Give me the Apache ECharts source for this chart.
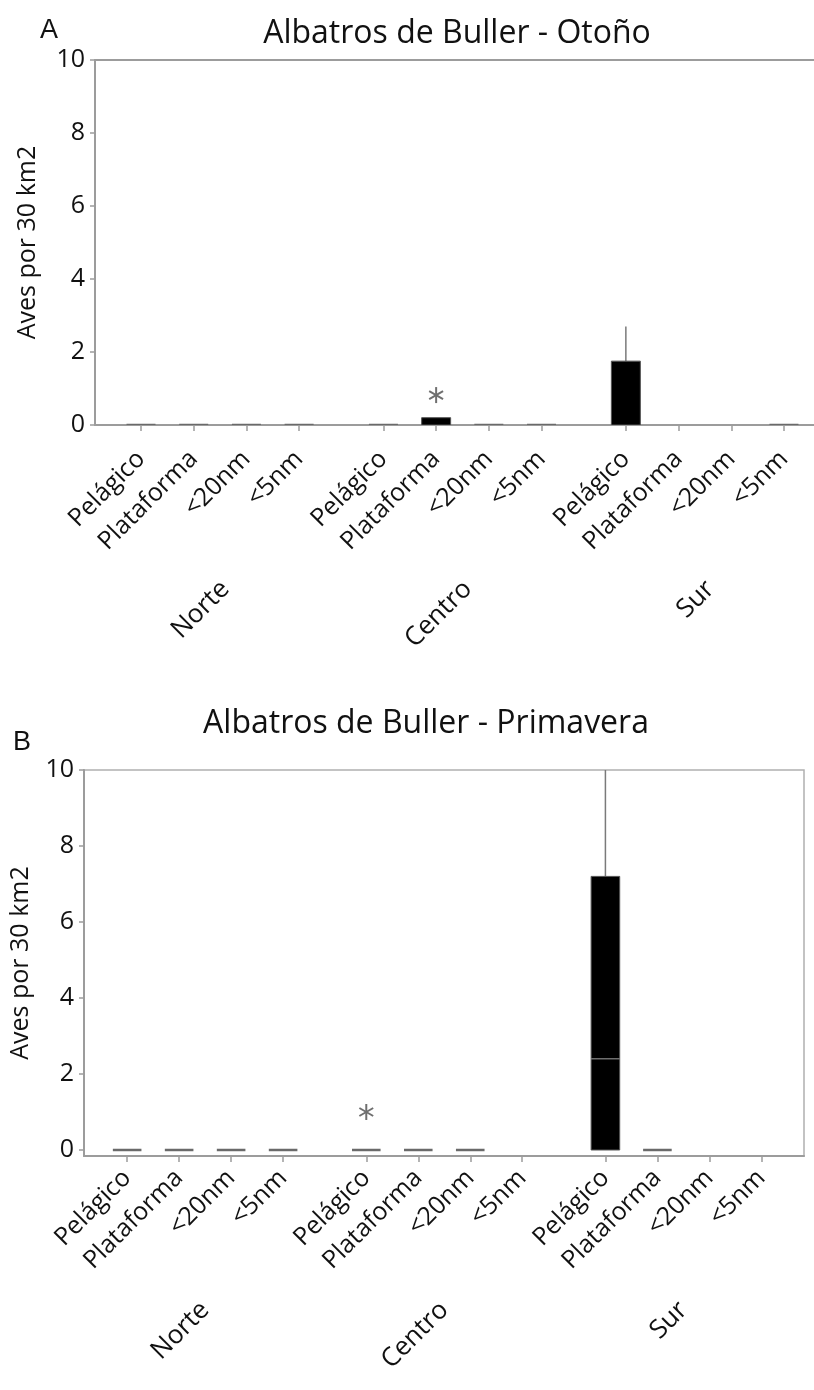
<!DOCTYPE html>
<html>
<head>
<meta charset="utf-8">
<script src="https://cdn.jsdelivr.net/npm/echarts@6/dist/echarts.min.js"></script>
<style>
html,body{margin:0;padding:0;background:#fff;}
#c{width:814px;height:1390px;}
</style>
</head>
<body>
<div id="c"></div>
<script>
// ---- data ----
const categories = ['Pelágico', 'Plataforma', '<20nm', '<5nm'];
const regions = ['Norte', 'Centro', 'Sur'];
const yTicks = [0, 2, 4, 6, 8, 10];
const titleOtono = 'Albatros de Buller - Otoño';
const titlePrimavera = 'Albatros de Buller - Primavera';
const yName = 'Aves por 30 km2';
// box stats per category: [min, q1, median, q3, max]; null = no box
const otonoNorte = [[0,0,0,0,0],[0,0,0,0,0],[0,0,0,0,0],[0,0,0,0,0]];
const otonoCentro = [[0,0,0,0,0],[0,0,0,0.2,0.2],[0,0,0,0,0],[0,0,0,0,0]];
const otonoSur = [[0,0,0,1.75,2.7],null,null,[0,0,0,0,0]];
const otonoOutliers = [['Centro', 'Plataforma', 0.82]];
const primaveraNorte = [[0,0,0,0,0],[0,0,0,0,0],[0,0,0,0,0],[0,0,0,0,0]];
const primaveraCentro = [[0,0,0,0,0],[0,0,0,0,0],[0,0,0,0,0],null];
const primaveraSur = [[0,0,2.4,7.2,10],[0,0,0,0,0],null,null];
const primaveraOutliers = [['Centro', 'Pelágico', 1.0]];

// ---- layout helpers ----
const GROUP_STEP = 4.6;
function pos(gi, ci) { return gi * GROUP_STEP + ci; }
const tickPos = [];
const tickName = [];
regions.forEach((r, gi) => categories.forEach((c, ci) => { tickPos.push(pos(gi, ci)); tickName.push(c); }));
const groupPos = regions.map((r, gi) => pos(gi, 1.5));
function nameAt(list, names, shift, v) {
  for (let i = 0; i < list.length; i++) if (Math.abs(list[i] + shift - v) < 1e-6) return names[i];
  return '';
}
function boxData(groups) {
  const out = [];
  groups.forEach((g, gi) => g.forEach((s, ci) => { if (s) out.push([pos(gi, ci)].concat(s)); }));
  return out;
}
function outData(list) {
  return list.map(o => [pos(regions.indexOf(o[0]), categories.indexOf(o[1])), o[2]]);
}

const AX = '#9c9c9c';
function renderBox(params, api) {
  const x = api.value(0), mn = api.value(1), q1 = api.value(2), md = api.value(3), q3 = api.value(4), mx = api.value(5);
  const w = api.size([1, 0])[0] * 0.55;
  const p1 = api.coord([x, q1]), p3 = api.coord([x, q3]), pm = api.coord([x, md]);
  const pmn = api.coord([x, mn]), pmx = api.coord([x, mx]);
  const cx = p1[0];
  const ch = [];
  if (mx > q3) ch.push({type: 'line', shape: {x1: cx, y1: p3[1], x2: cx, y2: pmx[1]}, style: {stroke: '#7a7a7a', lineWidth: 1.5}});
  if (mn < q1) ch.push({type: 'line', shape: {x1: cx, y1: p1[1], x2: cx, y2: pmn[1]}, style: {stroke: '#7a7a7a', lineWidth: 1.5}});
  if (q3 > q1) {
    ch.push({type: 'rect', shape: {x: cx - w / 2, y: p3[1], width: w, height: p1[1] - p3[1]}, style: {fill: '#000', stroke: '#555', lineWidth: 1}});
    if (md > q1 && md < q3) ch.push({type: 'line', shape: {x1: cx - w / 2, y1: pm[1], x2: cx + w / 2, y2: pm[1]}, style: {stroke: '#8a8a8a', lineWidth: 1.2}});
  } else {
    ch.push({type: 'line', shape: {x1: cx - w / 2, y1: p1[1], x2: cx + w / 2, y2: p1[1]}, style: {stroke: '#6a6a6a', lineWidth: 2.5}});
  }
  return {type: 'group', children: ch};
}
function renderStar(params, api) {
  const p = api.coord([api.value(0), api.value(1)]);
  const r = 8, c = Math.cos(Math.PI / 6) * r, s = Math.sin(Math.PI / 6) * r;
  const st = {stroke: '#6f6f6f', lineWidth: 2};
  return {type: 'group', children: [
    {type: 'line', shape: {x1: p[0], y1: p[1] - r, x2: p[0], y2: p[1] + r}, style: st},
    {type: 'line', shape: {x1: p[0] - c, y1: p[1] - s, x2: p[0] + c, y2: p[1] + s}, style: st},
    {type: 'line', shape: {x1: p[0] - c, y1: p[1] + s, x2: p[0] + c, y2: p[1] - s}, style: st}
  ]};
}

const FONT = 'Open Sans';
const TXT = '#111111';
function catAxis(gridIndex, mn, mx, shift, margin) {
  const lab = tickPos.map(v => v + shift);
  return {
    type: 'value', gridIndex, min: mn, max: mx, position: 'bottom',
    splitLine: {show: false},
    axisLine: {show: true, onZero: false, lineStyle: {color: AX, width: 2}},
    axisTick: {show: true, customValues: tickPos, length: 6, lineStyle: {color: AX, width: 1.5}},
    axisLabel: {customValues: lab, rotate: 45, margin: margin, fontSize: 25, color: TXT, fontFamily: FONT,
      formatter: v => nameAt(tickPos, tickName, shift, v)}
  };
}
function groupAxis(gridIndex, mn, mx, shift, margin) {
  const lab = groupPos.map(v => v + shift);
  return {
    type: 'value', gridIndex, min: mn, max: mx, position: 'bottom',
    splitLine: {show: false}, axisLine: {show: false}, axisTick: {show: false},
    axisLabel: {customValues: lab, rotate: 45, margin: margin, fontSize: 26, color: TXT, fontFamily: FONT,
      formatter: v => nameAt(groupPos, regions, shift, v)}
  };
}
function valAxis(gridIndex, mn, nameGap) {
  return {
    type: 'value', gridIndex, min: mn, max: 10,
    name: yName, nameLocation: 'middle', nameGap: nameGap, nameRotate: 90,
    nameTextStyle: {fontSize: 25, color: TXT, fontFamily: FONT},
    splitLine: {show: false},
    axisLine: {show: true, onZero: false, lineStyle: {color: AX, width: 2}},
    axisTick: {show: true, customValues: yTicks, length: 5, lineStyle: {color: AX, width: 1.5}},
    axisLabel: {customValues: yTicks, margin: 10, fontSize: 25, color: TXT, fontFamily: FONT}
  };
}

const chart = echarts.init(document.getElementById('c'), null, {renderer: 'canvas'});
chart.setOption({
  animation: false,
  backgroundColor: '#fff',
  title: [
    {text: 'A', left: 35, top: 12, textStyle: {fontSize: 27, fontWeight: 'normal', color: TXT, fontFamily: 'Liberation Sans'}},
    {text: titleOtono, left: 452, top: 13, textAlign: 'center', textStyle: {fontSize: 32, fontWeight: 'normal', color: TXT, fontFamily: FONT}},
    {text: 'B', left: 8, top: 724, textStyle: {fontSize: 27, fontWeight: 'normal', color: TXT, fontFamily: 'Liberation Sans'}},
    {text: titlePrimavera, left: 421, top: 703, textAlign: 'center', textStyle: {fontSize: 32, fontWeight: 'normal', color: TXT, fontFamily: FONT}}
  ],
  grid: [
    {left: 95, top: 60, right: 0, height: 365, show: false, outerBoundsMode: 'none'},
    {left: 84, top: 770, right: 10, height: 386, show: true, borderColor: '#b0b0b0', borderWidth: 1.5, outerBoundsMode: 'none'}
  ],
  xAxis: [
    catAxis(0, -0.873, 12.77, 0.0, 30),
    groupAxis(0, -0.873, 12.77, 0.1, 160),
    {type: 'value', gridIndex: 0, min: -0.873, max: 12.77, position: 'top',
      axisLine: {show: true, onZero: false, lineStyle: {color: AX, width: 2}},
      axisTick: {show: false}, axisLabel: {show: false}, splitLine: {show: false}},
    catAxis(1, -0.83, 13.02, 0.0, 18),
    groupAxis(1, -0.83, 13.02, 0.0, 150)
  ],
  yAxis: [
    valAxis(0, 0, 55),
    valAxis(1, -0.158, 51)
  ],
  series: [
    {type: 'custom', xAxisIndex: 0, yAxisIndex: 0, renderItem: renderBox, data: boxData([otonoNorte, otonoCentro, otonoSur]), clip: true},
    {type: 'custom', xAxisIndex: 0, yAxisIndex: 0, renderItem: renderStar, data: outData(otonoOutliers)},
    {type: 'custom', xAxisIndex: 3, yAxisIndex: 1, renderItem: renderBox, data: boxData([primaveraNorte, primaveraCentro, primaveraSur]), clip: true},
    {type: 'custom', xAxisIndex: 3, yAxisIndex: 1, renderItem: renderStar, data: outData(primaveraOutliers)}
  ]
});
</script>
</body>
</html>
